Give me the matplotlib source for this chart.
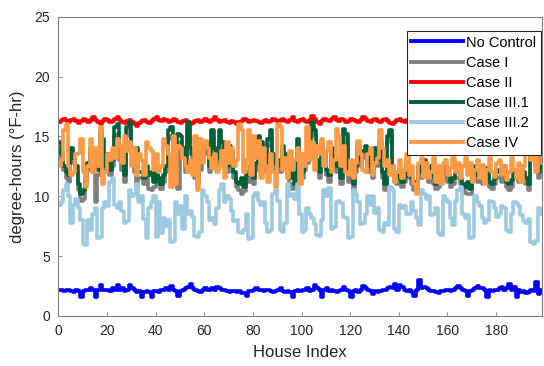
import numpy as np
import matplotlib
matplotlib.use("Agg")
import matplotlib.pyplot as plt

plt.rcParams['font.family'] = ['Liberation Sans', 'DejaVu Sans']

# values, one per house (index 0..199)
no_control = [
    2.2, 2.2, 2.1, 2.2, 2.2, 2.1, 2.0, 2.2, 2.1, 1.6, 2.1, 2.2, 2.2, 2.3, 2.2, 1.6, 2.2, 2.6, 2.2, 2.2,
    2.2, 2.1, 2.3, 2.2, 2.6, 2.2, 2.3, 2.1, 2.2, 2.6, 2.3, 2.2, 2.0, 2.1, 1.6, 2.0, 2.1, 2.0, 1.6, 2.1,
    2.1, 2.0, 2.2, 2.2, 2.3, 2.2, 2.5, 2.2, 2.1, 1.7, 2.1, 2.2, 2.3, 2.4, 2.7, 2.3, 2.2, 2.1, 2.0, 2.2,
    2.3, 2.2, 2.2, 2.3, 2.2, 2.4, 2.3, 2.2, 2.2, 2.1, 2.0, 2.1, 2.1, 2.0, 2.1, 1.9, 1.9, 1.7, 2.1, 2.1,
    2.2, 2.3, 2.2, 2.2, 2.1, 2.2, 2.2, 2.1, 2.0, 2.1, 2.2, 2.3, 2.1, 2.0, 2.1, 2.0, 1.6, 2.1, 2.2, 2.1,
    2.2, 2.2, 2.3, 2.1, 2.2, 2.6, 2.3, 2.2, 1.6, 2.2, 2.3, 2.1, 2.2, 2.1, 2.0, 2.1, 2.2, 2.4, 2.2, 2.1,
    1.6, 2.1, 2.2, 2.0, 2.2, 2.5, 2.3, 2.2, 2.1, 1.8, 2.1, 2.0, 2.1, 2.2, 2.2, 2.3, 2.4, 2.3, 2.7, 2.2,
    2.6, 2.4, 2.2, 2.1, 2.2, 2.0, 1.7, 2.2, 3.0, 2.3, 2.4, 2.3, 2.2, 2.1, 2.1, 2.0, 1.9, 2.1, 2.1, 2.2,
    2.2, 2.1, 2.2, 2.3, 2.5, 2.3, 2.2, 2.1, 1.7, 2.1, 2.2, 2.3, 2.5, 2.3, 2.3, 2.2, 1.6, 2.2, 2.1, 2.2,
    2.2, 2.3, 2.4, 2.2, 2.3, 2.7, 2.2, 2.4, 1.6, 2.2, 2.0, 2.1, 1.9, 2.0, 2.2, 2.1, 2.8, 1.8, 2.2, 2.0,
]

case_1 = [
    13.8, 13.0, 12.2, 11.5, 11.2, 13.5, 12.8, 12.0, 10.5, 9.6, 9.8, 11.0, 12.2, 13.5, 12.0, 9.5, 11.8, 14.8, 13.5, 12.0,
    13.0, 11.8, 12.5, 15.0, 15.2, 13.0, 12.2, 11.2, 15.0, 15.5, 13.5, 12.0, 10.8, 11.5, 11.5, 11.0, 11.8, 10.6, 10.5, 10.8,
    12.0, 11.0, 10.6, 11.2, 12.0, 14.8, 15.0, 13.8, 11.8, 10.6, 14.5, 13.5, 12.0, 15.5, 13.5, 13.0, 11.5, 11.0, 12.2, 13.0,
    14.0, 13.5, 12.0, 14.8, 13.5, 12.8, 14.8, 14.0, 12.5, 12.0, 13.8, 13.2, 11.5, 10.8, 10.5, 10.2, 10.4, 11.5, 11.2, 12.0,
    11.0, 12.2, 14.5, 14.0, 13.2, 12.0, 14.2, 15.0, 13.0, 12.2, 12.5, 12.0, 13.8, 13.0, 11.8, 11.0, 10.6, 10.8, 14.2, 13.0,
    11.5, 12.2, 12.8, 13.5, 15.5, 15.0, 12.5, 11.5, 14.0, 13.0, 11.8, 11.2, 13.5, 12.8, 12.0, 12.2, 11.0, 15.0, 14.5, 11.2,
    11.6, 10.3, 12.0, 13.8, 12.5, 13.2, 13.8, 12.0, 13.0, 11.5, 13.5, 12.5, 14.0, 11.5, 10.5, 14.5, 15.0, 12.0, 11.2, 11.0,
    11.6, 10.8, 11.2, 12.2, 11.5, 11.0, 10.5, 10.6, 12.0, 11.5, 12.5, 11.8, 11.2, 12.0, 11.0, 10.6, 10.8, 11.2, 11.6, 12.0,
    11.2, 10.8, 11.0, 11.5, 11.5, 11.0, 10.6, 10.3, 10.2, 10.2, 11.5, 12.0, 11.2, 11.8, 11.0, 11.5, 11.8, 10.8, 10.6, 11.0,
    11.6, 11.5, 11.2, 12.0, 10.8, 10.5, 10.8, 11.5, 11.8, 11.2, 12.0, 11.5, 11.0, 10.5, 13.5, 15.0, 12.5, 11.5, 13.0, 12.0,
]

case_2 = [
    16.2, 16.4, 16.5, 16.3, 16.2, 16.4, 16.5, 16.3, 16.1, 16.3, 16.5, 16.4, 16.2, 16.4, 16.6, 16.4, 16.2, 16.0, 16.3, 16.5,
    16.4, 16.2, 16.3, 16.5, 16.6, 16.4, 16.2, 16.1, 16.3, 16.4, 16.2, 16.0, 15.9, 16.1, 16.3, 16.4, 16.2, 16.1, 16.3, 16.5,
    16.6, 16.4, 16.3, 16.5, 16.4, 16.2, 16.3, 16.5, 16.4, 16.2, 16.1, 16.3, 16.4, 16.2, 16.0, 16.1, 16.3, 16.4, 16.2, 16.3,
    16.5, 16.3, 16.2, 16.4, 16.6, 16.4, 16.2, 16.3, 16.4, 16.2, 16.1, 16.3, 16.2, 16.0, 16.2, 16.3, 16.5, 16.4, 16.2, 16.3,
    16.4, 16.3, 16.2, 16.1, 16.3, 16.4, 16.2, 16.3, 16.5, 16.4, 16.2, 16.4, 16.5, 16.3, 16.2, 16.4, 16.6, 16.3, 16.2, 16.4,
    16.5, 16.3, 16.2, 16.4, 16.7, 16.5, 16.2, 16.0, 16.3, 16.5, 16.4, 16.3, 16.5, 16.6, 16.4, 16.3, 16.5, 16.4, 16.2, 16.3,
    16.5, 16.4, 16.3, 16.2, 16.4, 16.6, 16.5, 16.3, 16.2, 16.4, 16.5, 16.3, 16.2, 16.4, 16.5, 16.3, 16.1, 16.0, 16.2, 16.4,
    16.5, 16.3, 16.2, 16.4, 16.3, 16.2, 16.1, 16.3, 16.4, 16.2, 16.1, 16.3, 16.2, 16.0, 16.2, 16.3, 16.2, 16.1, 16.3, 16.4,
    16.2, 16.3, 16.4, 16.2, 16.1, 16.3, 16.4, 16.3, 16.2, 16.4, 16.3, 16.1, 16.2, 16.3, 16.4, 16.2, 16.3, 16.4, 16.2, 16.3,
    16.4, 16.3, 16.2, 16.4, 16.5, 16.3, 16.2, 16.4, 16.3, 16.2, 16.4, 16.6, 16.5, 16.7, 16.9, 16.6, 17.1, 16.5, 16.3, 16.4,
]

case_3_1 = [
    14.5, 13.5, 12.5, 12.0, 11.8, 14.0, 13.2, 12.5, 11.0, 10.2, 10.5, 11.5, 12.8, 14.0, 12.5, 13.0, 12.2, 15.5, 14.8, 12.5,
    13.5, 12.2, 13.0, 15.8, 16.0, 13.5, 12.8, 11.8, 15.8, 16.2, 14.0, 12.5, 14.0, 12.0, 12.0, 11.5, 12.5, 11.8, 12.0, 11.2,
    12.5, 11.5, 11.0, 11.8, 12.5, 15.5, 15.8, 14.5, 12.2, 15.2, 15.0, 14.0, 12.5, 16.2, 14.0, 13.5, 12.0, 11.5, 12.8, 13.5,
    14.5, 14.0, 12.5, 15.5, 14.0, 13.2, 15.5, 14.5, 13.0, 12.5, 14.2, 13.8, 12.0, 11.2, 11.0, 11.5, 10.8, 12.0, 11.8, 12.5,
    11.5, 12.8, 15.0, 14.5, 13.8, 12.5, 14.8, 15.5, 13.5, 12.8, 13.0, 12.5, 14.2, 13.5, 12.2, 11.5, 12.8, 11.0, 14.8, 13.5,
    12.0, 12.8, 13.2, 14.0, 16.2, 15.5, 13.0, 12.0, 14.5, 13.5, 12.2, 11.8, 14.0, 13.2, 12.5, 12.8, 11.5, 15.6, 15.2, 11.8,
    12.2, 11.0, 12.5, 14.2, 13.0, 13.8, 14.2, 12.5, 13.5, 12.0, 14.0, 13.0, 14.5, 12.0, 11.0, 15.0, 15.5, 12.5, 11.8, 11.5,
    12.2, 11.2, 11.6, 12.8, 12.0, 11.5, 11.0, 11.2, 12.5, 12.0, 13.0, 12.2, 11.8, 12.5, 11.6, 11.0, 11.4, 11.8, 12.2, 12.5,
    11.8, 11.2, 11.5, 12.0, 12.0, 11.5, 11.0, 10.8, 11.2, 10.6, 12.0, 12.5, 11.8, 12.2, 11.5, 12.0, 12.4, 11.2, 11.0, 11.5,
    12.2, 12.0, 11.8, 12.5, 11.2, 11.0, 11.4, 12.0, 12.2, 11.8, 12.5, 12.0, 11.5, 11.0, 14.0, 15.6, 13.0, 12.0, 13.5, 12.5,
]

case_3_2 = [
    9.3, 9.5, 10.5, 11.0, 10.0, 7.8, 9.3, 9.8, 9.0, 8.0, 6.0, 5.9, 8.0, 7.2, 8.5, 9.0, 6.5, 6.6, 9.0, 9.5,
    9.2, 11.2, 11.5, 9.3, 9.0, 9.5, 8.8, 7.8, 7.9, 10.5, 10.0, 10.2, 11.0, 9.5, 10.0, 8.1, 6.5, 9.0, 9.5, 10.0,
    6.6, 9.5, 6.9, 8.2, 7.5, 8.0, 6.2, 6.3, 9.5, 8.5, 9.2, 7.3, 10.0, 8.5, 8.8, 8.3, 6.7, 6.6, 7.0, 10.5,
    10.0, 9.5, 8.0, 8.2, 7.7, 9.0, 10.5, 11.0, 9.5, 10.0, 9.8, 8.8, 7.9, 8.0, 7.0, 6.9, 7.2, 8.5, 6.4, 6.5,
    10.0, 10.3, 9.6, 9.3, 9.5, 7.8, 7.0, 7.2, 10.2, 10.5, 9.6, 7.2, 7.0, 7.8, 11.0, 10.0, 10.2, 9.8, 11.0, 8.5,
    7.0, 7.2, 9.0, 8.5, 8.2, 7.7, 6.8, 6.7, 8.0, 10.5, 10.0, 10.7, 7.3, 7.4, 9.5, 9.6, 9.4, 8.3, 8.2, 6.5,
    6.6, 10.5, 10.2, 9.5, 7.7, 7.8, 8.5, 10.0, 9.3, 10.0, 8.6, 9.0, 7.2, 7.0, 7.8, 7.6, 10.8, 10.5, 7.3, 7.0,
    9.3, 9.0, 9.2, 8.5, 8.5, 9.5, 8.8, 8.2, 7.6, 10.5, 10.2, 9.8, 10.0, 8.4, 8.5, 9.0, 6.9, 6.8, 10.0, 9.8,
    9.5, 8.2, 7.6, 9.6, 10.5, 10.8, 8.5, 8.2, 8.4, 6.5, 6.6, 10.0, 9.5, 9.2, 8.2, 7.8, 8.0, 9.6, 9.5, 9.0,
    8.3, 8.5, 9.2, 9.0, 7.2, 7.0, 8.5, 9.5, 9.4, 9.2, 8.4, 7.9, 7.8, 8.1, 6.2, 6.0, 6.3, 9.0, 8.5, 8.7,
]

case_4 = [
    12.5, 13.0, 15.5, 16.0, 12.5, 11.8, 12.0, 13.5, 13.6, 14.8, 12.0, 10.8, 12.5, 14.8, 12.0, 14.0, 12.5, 15.8, 11.0, 12.0,
    13.5, 13.0, 14.0, 13.2, 14.8, 14.2, 12.8, 15.0, 13.8, 14.5, 12.5, 14.0, 11.8, 13.5, 13.0, 11.8, 14.5, 14.0, 13.8, 12.2,
    13.5, 12.0, 12.5, 14.8, 14.2, 13.5, 10.8, 15.0, 11.0, 14.2, 14.0, 13.2, 12.5, 12.0, 13.0, 11.8, 15.0, 10.5, 14.8, 12.8,
    14.6, 14.0, 13.2, 12.4, 13.5, 12.0, 12.5, 13.8, 11.5, 14.5, 12.8, 14.0, 12.5, 13.0, 16.0, 15.5, 12.0, 13.0, 15.5, 11.8,
    15.0, 13.2, 14.6, 11.5, 14.0, 12.5, 11.2, 13.5, 12.0, 10.8, 16.0, 15.8, 12.2, 13.2, 11.5, 13.8, 12.2, 13.0, 14.0, 11.0,
    13.5, 12.5, 15.8, 13.0, 14.5, 12.2, 14.2, 13.5, 14.8, 12.5, 13.8, 14.5, 12.0, 13.0, 15.6, 15.0, 12.5, 14.2, 12.0, 11.8,
    13.0, 11.5, 12.8, 14.6, 13.5, 12.2, 12.0, 13.5, 14.0, 11.8, 12.8, 13.2, 15.5, 14.0, 12.5, 13.0, 11.8, 12.5, 11.2, 12.0,
    13.0, 11.5, 12.2, 13.5, 11.8, 12.5, 11.0, 10.2, 12.8, 13.2, 11.6, 12.8, 11.5, 12.0, 13.2, 11.2, 12.5, 11.0, 12.8, 13.0,
    11.8, 12.4, 13.2, 12.0, 12.8, 11.5, 12.5, 13.2, 11.8, 12.8, 11.2, 12.2, 13.0, 11.5, 12.6, 11.0, 12.2, 13.2, 12.0, 11.6,
    12.8, 13.0, 11.8, 12.5, 11.4, 12.0, 13.2, 12.2, 11.5, 12.8, 11.2, 12.5, 14.5, 15.0, 13.0, 14.8, 12.0, 13.5, 14.2, 12.8,
]

labels = ["No Control", "Case I", "Case II", "Case III.1", "Case III.2", "Case IV"]
colors = ["#0000ff", "#7f7f7f", "#ff0000", "#00613a", "#9ecae1", "#fd9a45"]
series = [no_control, case_1, case_2, case_3_1, case_3_2, case_4]

houses = np.arange(len(no_control))

fig = plt.figure(figsize=(5.44, 3.66), dpi=100)
ax = fig.add_axes([0.107, 0.137, 0.890, 0.817])

for vals, lab, col in zip(series, labels, colors):
    ax.plot(houses, vals, color=col, lw=2.6, drawstyle="steps-post", label=lab)

ax.set_xlim(0, 199)
ax.set_ylim(0, 25)
ax.set_xticks(np.arange(0, 181, 20))
ax.set_yticks(np.arange(0, 26, 5))

axis_col = "#262626"
for sp in ax.spines.values():
    sp.set_color("#7f7f7f")
    sp.set_linewidth(0.8)
ax.tick_params(direction="in", length=3, width=0.6, colors="#7f7f7f",
               labelcolor=axis_col, labelsize=10, pad=6, top=False, right=False)
ax.set_xlabel("House Index", fontsize=12, color=axis_col, labelpad=5)
ax.set_ylabel("degree-hours (°F-hr)", fontsize=12, color=axis_col, labelpad=7)

leg = ax.legend(loc="upper right", bbox_to_anchor=(1.0, 0.957), fontsize=10.5,
                handlelength=3.6, handletextpad=0.2, borderpad=0.3,
                labelspacing=0.42, borderaxespad=0.1, fancybox=False, framealpha=1)
leg.get_frame().set_edgecolor("#262626")
leg.get_frame().set_linewidth(0.8)
for line in leg.get_lines():
    line.set_linewidth(2.8)

fig.savefig("out.png", dpi=100)
